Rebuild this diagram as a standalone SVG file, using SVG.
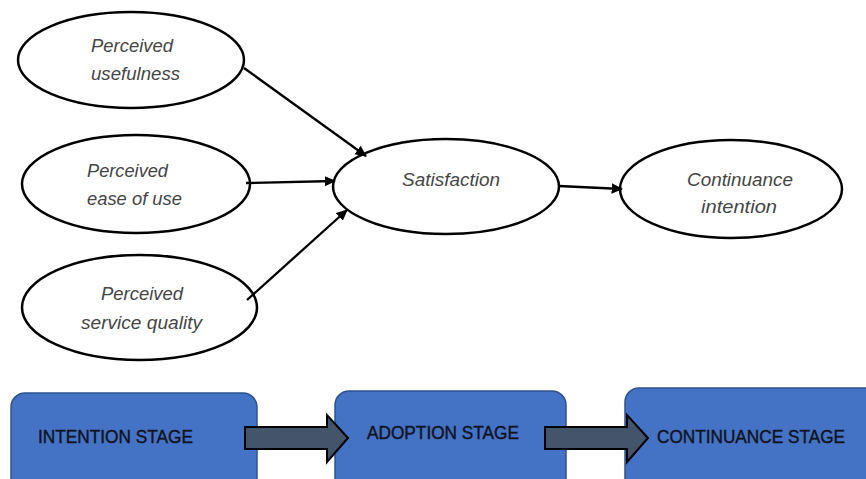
<svg xmlns="http://www.w3.org/2000/svg" width="866" height="479" viewBox="0 0 866 479">
  <defs>
    <style>
      .node ellipse { fill: #ffffff; stroke: #000000; stroke-width: 2.5; }
      .lbl { font-family: "Liberation Sans", Arial, sans-serif; font-style: italic; font-size: 18px; fill: #454545; }
      .edge { stroke: #000000; stroke-width: 2.3; fill: none; marker-end: url(#head); }
      .stage rect { fill: #4472C4; stroke: #2F528F; stroke-width: 1.5; }
      .stxt { font-family: "Liberation Sans Narrow", "Liberation Sans", Arial, sans-serif; font-size: 18px; fill: #10121c; stroke: #10121c; stroke-width: 0.4; }
      .block { fill: #44546A; stroke: #000000; stroke-width: 2; stroke-linejoin: miter; }
    </style>
    <marker id="head" viewBox="0 0 10 10" refX="9" refY="5" markerWidth="5" markerHeight="5" orient="auto" markerUnits="strokeWidth">
      <path d="M0,0.5 L10,5 L0,9.5 Z" fill="#000000"/>
    </marker>
  </defs>

  <rect width="866" height="479" fill="#ffffff"/>

  <!-- model nodes -->
  <g id="usefulness" class="node">
    <ellipse cx="131" cy="60" rx="113" ry="48"/>
    <text class="lbl" x="91" y="52" textLength="82" lengthAdjust="spacingAndGlyphs">Perceived</text>
    <text class="lbl" x="91" y="80" textLength="89" lengthAdjust="spacingAndGlyphs">usefulness</text>
  </g>
  <g id="ease" class="node">
    <ellipse cx="136" cy="184" rx="114" ry="49"/>
    <text class="lbl" x="87" y="177" textLength="81" lengthAdjust="spacingAndGlyphs">Perceived</text>
    <text class="lbl" x="87" y="205" textLength="95" lengthAdjust="spacingAndGlyphs">ease of use</text>
  </g>
  <g id="quality" class="node">
    <ellipse cx="139.5" cy="307.5" rx="117.5" ry="52.5"/>
    <text class="lbl" x="101" y="300" textLength="82" lengthAdjust="spacingAndGlyphs">Perceived</text>
    <text class="lbl" x="81" y="329" textLength="121" lengthAdjust="spacingAndGlyphs">service quality</text>
  </g>
  <g id="satisfaction" class="node">
    <ellipse cx="446" cy="186.5" rx="113" ry="47.5"/>
    <text class="lbl" x="402" y="186" textLength="98" lengthAdjust="spacingAndGlyphs">Satisfaction</text>
  </g>
  <g id="continuance" class="node">
    <ellipse cx="731" cy="189" rx="111" ry="49"/>
    <text class="lbl" x="687" y="186" textLength="106" lengthAdjust="spacingAndGlyphs">Continuance</text>
    <text class="lbl" x="701" y="213" textLength="76" lengthAdjust="spacingAndGlyphs">intention</text>
  </g>

  <!-- connectors -->
  <g id="connectors">
    <line class="edge" x1="244" y1="68" x2="366" y2="156"/>
    <line class="edge" x1="246" y1="183" x2="335" y2="181"/>
    <line class="edge" x1="247" y1="300" x2="347" y2="210"/>
    <line class="edge" x1="559" y1="186" x2="622" y2="189"/>
  </g>

  <!-- stage boxes -->
  <g id="stage-intention" class="stage">
    <rect x="11" y="393" width="246" height="110" rx="14"/>
    <text class="stxt" x="38" y="443" textLength="155" lengthAdjust="spacingAndGlyphs">INTENTION STAGE</text>
  </g>
  <g id="stage-adoption" class="stage">
    <rect x="335" y="391" width="231" height="110" rx="14"/>
    <text class="stxt" x="367" y="439" textLength="152" lengthAdjust="spacingAndGlyphs">ADOPTION STAGE</text>
  </g>
  <g id="stage-continuance" class="stage">
    <rect x="625" y="388" width="260" height="110" rx="14"/>
    <text class="stxt" x="657" y="443" textLength="188" lengthAdjust="spacingAndGlyphs">CONTINUANCE STAGE</text>
  </g>

  <!-- block arrows between stages -->
  <g id="stage-arrows">
    <path class="block" d="M245,427 L327,427 L327,415 L348,438 L327,462 L327,449 L245,449 Z"/>
    <path class="block" d="M545,427 L627,427 L627,415 L648,438 L627,462 L627,449 L545,449 Z"/>
  </g>
</svg>
